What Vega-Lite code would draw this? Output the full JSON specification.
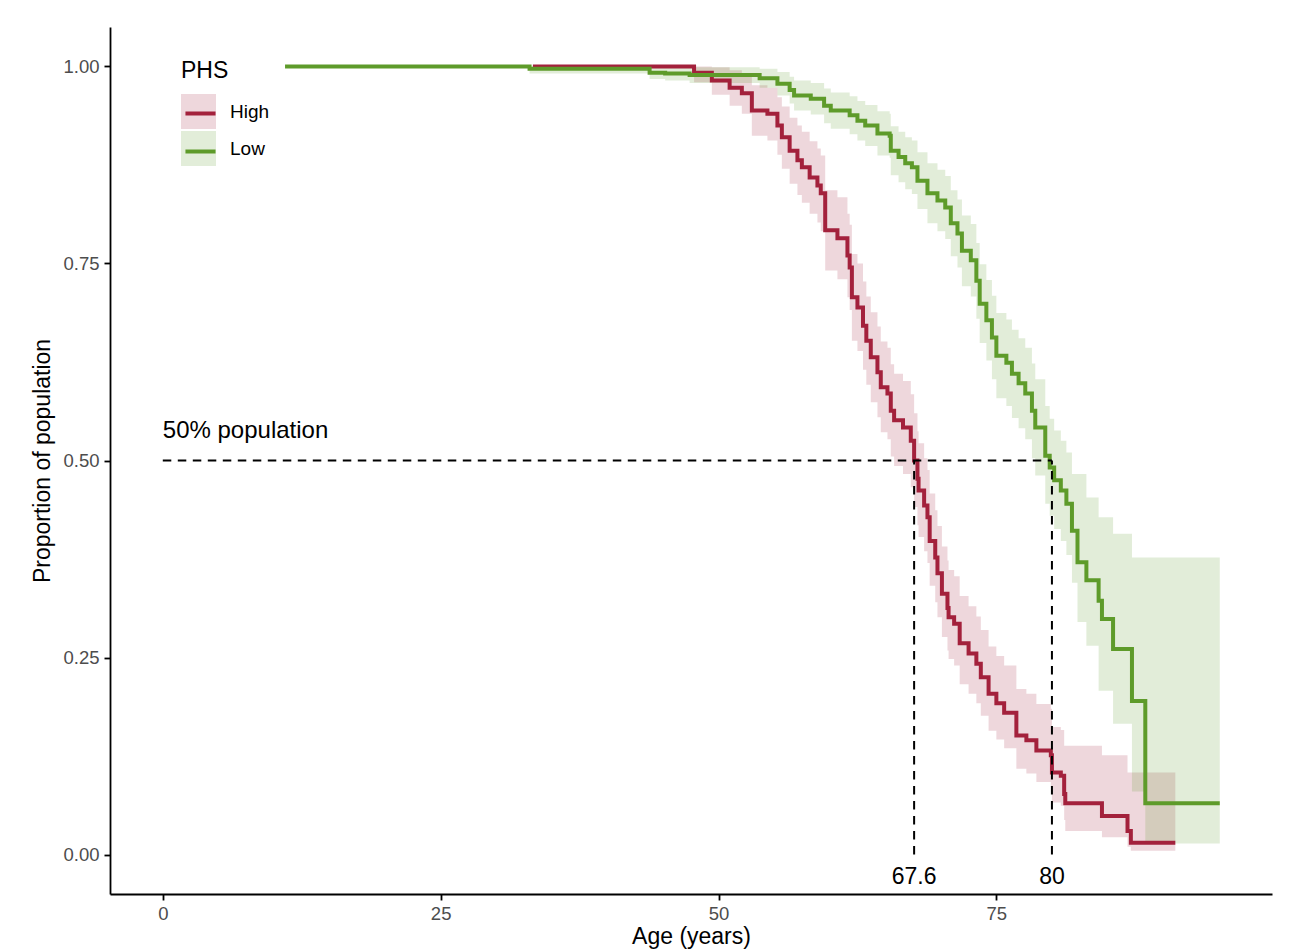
{
  "$schema": "https://vega.github.io/schema/vega-lite/v6.json",
  "width": 1162,
  "height": 867,
  "autosize": {"type": "none"},
  "padding": {"left": 110, "top": 27, "right": 23, "bottom": 56},
  "background": "white",
  "config": {
    "view": {"stroke": null},
    "font": "Liberation Sans",
    "axis": {
      "domainColor": "black",
      "domainWidth": 1.8,
      "tickColor": "black",
      "tickWidth": 1.8,
      "tickSize": 6,
      "labelColor": "#4D4D4D",
      "labelFontSize": 18.5,
      "labelFont": "Liberation Sans",
      "titleFont": "Liberation Sans",
      "titleFontSize": 23,
      "titleFontWeight": "normal",
      "titleColor": "black",
      "grid": false
    },
    "axisX": {"labelPadding": 4, "titlePadding": 3},
    "axisY": {"labelPadding": 5, "titlePadding": 8}
  },
  "datasets": {
    "km": [
      {"PHS": "High", "age": 33.3, "surv": 1.000, "lower": 1.000, "upper": 1.000},
      {"PHS": "High", "age": 47.8, "surv": 0.992, "lower": 0.980, "upper": 1.000},
      {"PHS": "High", "age": 49.4, "surv": 0.982, "lower": 0.964, "upper": 0.999},
      {"PHS": "High", "age": 51.0, "surv": 0.973, "lower": 0.950, "upper": 0.995},
      {"PHS": "High", "age": 52.1, "surv": 0.966, "lower": 0.940, "upper": 0.991},
      {"PHS": "High", "age": 53.0, "surv": 0.944, "lower": 0.912, "upper": 0.976},
      {"PHS": "High", "age": 54.4, "surv": 0.940, "lower": 0.906, "upper": 0.973},
      {"PHS": "High", "age": 55.3, "surv": 0.925, "lower": 0.888, "upper": 0.961},
      {"PHS": "High", "age": 55.7, "surv": 0.910, "lower": 0.870, "upper": 0.949},
      {"PHS": "High", "age": 56.4, "surv": 0.893, "lower": 0.851, "upper": 0.935},
      {"PHS": "High", "age": 57.1, "surv": 0.881, "lower": 0.837, "upper": 0.925},
      {"PHS": "High", "age": 57.5, "surv": 0.872, "lower": 0.827, "upper": 0.917},
      {"PHS": "High", "age": 58.2, "surv": 0.859, "lower": 0.813, "upper": 0.905},
      {"PHS": "High", "age": 58.9, "surv": 0.849, "lower": 0.802, "upper": 0.896},
      {"PHS": "High", "age": 59.2, "surv": 0.839, "lower": 0.791, "upper": 0.887},
      {"PHS": "High", "age": 59.6, "surv": 0.792, "lower": 0.741, "upper": 0.843},
      {"PHS": "High", "age": 60.7, "surv": 0.782, "lower": 0.730, "upper": 0.834},
      {"PHS": "High", "age": 61.6, "surv": 0.760, "lower": 0.707, "upper": 0.813},
      {"PHS": "High", "age": 61.8, "surv": 0.745, "lower": 0.691, "upper": 0.799},
      {"PHS": "High", "age": 62.0, "surv": 0.707, "lower": 0.652, "upper": 0.762},
      {"PHS": "High", "age": 62.5, "surv": 0.694, "lower": 0.639, "upper": 0.750},
      {"PHS": "High", "age": 63.0, "surv": 0.671, "lower": 0.615, "upper": 0.727},
      {"PHS": "High", "age": 63.3, "surv": 0.652, "lower": 0.596, "upper": 0.708},
      {"PHS": "High", "age": 63.7, "surv": 0.631, "lower": 0.574, "upper": 0.688},
      {"PHS": "High", "age": 64.3, "surv": 0.612, "lower": 0.555, "upper": 0.670},
      {"PHS": "High", "age": 64.6, "surv": 0.593, "lower": 0.536, "upper": 0.651},
      {"PHS": "High", "age": 65.2, "surv": 0.585, "lower": 0.527, "upper": 0.643},
      {"PHS": "High", "age": 65.5, "surv": 0.563, "lower": 0.505, "upper": 0.622},
      {"PHS": "High", "age": 65.8, "surv": 0.551, "lower": 0.493, "upper": 0.610},
      {"PHS": "High", "age": 66.6, "surv": 0.542, "lower": 0.483, "upper": 0.601},
      {"PHS": "High", "age": 67.3, "surv": 0.525, "lower": 0.466, "upper": 0.584},
      {"PHS": "High", "age": 67.6, "surv": 0.500, "lower": 0.441, "upper": 0.560},
      {"PHS": "High", "age": 67.9, "surv": 0.477, "lower": 0.418, "upper": 0.537},
      {"PHS": "High", "age": 68.0, "surv": 0.462, "lower": 0.403, "upper": 0.522},
      {"PHS": "High", "age": 68.5, "surv": 0.443, "lower": 0.385, "upper": 0.503},
      {"PHS": "High", "age": 68.8, "surv": 0.428, "lower": 0.370, "upper": 0.488},
      {"PHS": "High", "age": 69.0, "surv": 0.398, "lower": 0.341, "upper": 0.458},
      {"PHS": "High", "age": 69.5, "surv": 0.377, "lower": 0.320, "upper": 0.437},
      {"PHS": "High", "age": 69.7, "surv": 0.357, "lower": 0.301, "upper": 0.417},
      {"PHS": "High", "age": 70.1, "surv": 0.331, "lower": 0.276, "upper": 0.391},
      {"PHS": "High", "age": 70.6, "surv": 0.313, "lower": 0.259, "upper": 0.373},
      {"PHS": "High", "age": 70.7, "surv": 0.301, "lower": 0.248, "upper": 0.361},
      {"PHS": "High", "age": 71.2, "surv": 0.293, "lower": 0.240, "upper": 0.353},
      {"PHS": "High", "age": 71.7, "surv": 0.268, "lower": 0.216, "upper": 0.328},
      {"PHS": "High", "age": 72.5, "surv": 0.255, "lower": 0.204, "upper": 0.315},
      {"PHS": "High", "age": 73.2, "surv": 0.242, "lower": 0.192, "upper": 0.302},
      {"PHS": "High", "age": 73.6, "surv": 0.225, "lower": 0.176, "upper": 0.285},
      {"PHS": "High", "age": 74.3, "surv": 0.204, "lower": 0.157, "upper": 0.264},
      {"PHS": "High", "age": 75.0, "surv": 0.192, "lower": 0.146, "upper": 0.252},
      {"PHS": "High", "age": 75.7, "surv": 0.180, "lower": 0.135, "upper": 0.240},
      {"PHS": "High", "age": 76.8, "surv": 0.151, "lower": 0.109, "upper": 0.210},
      {"PHS": "High", "age": 77.7, "surv": 0.145, "lower": 0.103, "upper": 0.204},
      {"PHS": "High", "age": 78.6, "surv": 0.132, "lower": 0.092, "upper": 0.191},
      {"PHS": "High", "age": 79.9, "surv": 0.126, "lower": 0.086, "upper": 0.185},
      {"PHS": "High", "age": 80.0, "surv": 0.104, "lower": 0.066, "upper": 0.162},
      {"PHS": "High", "age": 80.8, "surv": 0.100, "lower": 0.062, "upper": 0.158},
      {"PHS": "High", "age": 81.1, "surv": 0.077, "lower": 0.044, "upper": 0.138},
      {"PHS": "High", "age": 81.2, "surv": 0.065, "lower": 0.030, "upper": 0.138},
      {"PHS": "High", "age": 84.5, "surv": 0.049, "lower": 0.022, "upper": 0.126},
      {"PHS": "High", "age": 86.8, "surv": 0.030, "lower": 0.010, "upper": 0.104},
      {"PHS": "High", "age": 87.1, "surv": 0.015, "lower": 0.005, "upper": 0.104},
      {"PHS": "High", "age": 91.1, "surv": 0.015, "lower": 0.005, "upper": 0.104},
      {"PHS": "Low", "age": 11.0, "surv": 1.000, "lower": 1.000, "upper": 1.000},
      {"PHS": "Low", "age": 33.0, "surv": 0.997, "lower": 0.991, "upper": 1.000},
      {"PHS": "Low", "age": 43.8, "surv": 0.992, "lower": 0.984, "upper": 1.000},
      {"PHS": "Low", "age": 45.2, "surv": 0.991, "lower": 0.982, "upper": 1.000},
      {"PHS": "Low", "age": 47.4, "surv": 0.989, "lower": 0.979, "upper": 0.999},
      {"PHS": "Low", "age": 53.7, "surv": 0.985, "lower": 0.973, "upper": 0.997},
      {"PHS": "Low", "age": 55.3, "surv": 0.978, "lower": 0.963, "upper": 0.993},
      {"PHS": "Low", "age": 56.4, "surv": 0.970, "lower": 0.953, "upper": 0.987},
      {"PHS": "Low", "age": 56.8, "surv": 0.963, "lower": 0.944, "upper": 0.982},
      {"PHS": "Low", "age": 58.3, "surv": 0.959, "lower": 0.939, "upper": 0.979},
      {"PHS": "Low", "age": 59.5, "surv": 0.950, "lower": 0.928, "upper": 0.972},
      {"PHS": "Low", "age": 60.1, "surv": 0.944, "lower": 0.921, "upper": 0.967},
      {"PHS": "Low", "age": 61.8, "surv": 0.938, "lower": 0.914, "upper": 0.962},
      {"PHS": "Low", "age": 62.5, "surv": 0.931, "lower": 0.906, "upper": 0.956},
      {"PHS": "Low", "age": 63.2, "surv": 0.925, "lower": 0.899, "upper": 0.951},
      {"PHS": "Low", "age": 64.3, "surv": 0.915, "lower": 0.887, "upper": 0.943},
      {"PHS": "Low", "age": 65.4, "surv": 0.912, "lower": 0.884, "upper": 0.940},
      {"PHS": "Low", "age": 65.5, "surv": 0.893, "lower": 0.862, "upper": 0.924},
      {"PHS": "Low", "age": 66.2, "surv": 0.885, "lower": 0.853, "upper": 0.917},
      {"PHS": "Low", "age": 66.8, "surv": 0.877, "lower": 0.844, "upper": 0.910},
      {"PHS": "Low", "age": 67.4, "surv": 0.872, "lower": 0.838, "upper": 0.906},
      {"PHS": "Low", "age": 67.9, "surv": 0.855, "lower": 0.819, "upper": 0.891},
      {"PHS": "Low", "age": 68.8, "surv": 0.839, "lower": 0.801, "upper": 0.877},
      {"PHS": "Low", "age": 69.7, "surv": 0.830, "lower": 0.791, "upper": 0.869},
      {"PHS": "Low", "age": 70.4, "surv": 0.821, "lower": 0.781, "upper": 0.861},
      {"PHS": "Low", "age": 70.9, "surv": 0.801, "lower": 0.759, "upper": 0.843},
      {"PHS": "Low", "age": 71.5, "surv": 0.788, "lower": 0.745, "upper": 0.831},
      {"PHS": "Low", "age": 71.9, "surv": 0.766, "lower": 0.721, "upper": 0.811},
      {"PHS": "Low", "age": 72.7, "surv": 0.754, "lower": 0.708, "upper": 0.800},
      {"PHS": "Low", "age": 73.2, "surv": 0.728, "lower": 0.680, "upper": 0.776},
      {"PHS": "Low", "age": 73.5, "surv": 0.699, "lower": 0.649, "upper": 0.749},
      {"PHS": "Low", "age": 74.1, "surv": 0.678, "lower": 0.627, "upper": 0.729},
      {"PHS": "Low", "age": 74.6, "surv": 0.656, "lower": 0.603, "upper": 0.709},
      {"PHS": "Low", "age": 75.0, "surv": 0.633, "lower": 0.579, "upper": 0.687},
      {"PHS": "Low", "age": 75.9, "surv": 0.624, "lower": 0.569, "upper": 0.679},
      {"PHS": "Low", "age": 76.4, "surv": 0.610, "lower": 0.554, "upper": 0.666},
      {"PHS": "Low", "age": 77.0, "surv": 0.598, "lower": 0.541, "upper": 0.655},
      {"PHS": "Low", "age": 77.6, "surv": 0.585, "lower": 0.527, "upper": 0.643},
      {"PHS": "Low", "age": 78.2, "surv": 0.563, "lower": 0.503, "upper": 0.623},
      {"PHS": "Low", "age": 78.5, "surv": 0.542, "lower": 0.481, "upper": 0.603},
      {"PHS": "Low", "age": 79.4, "surv": 0.506, "lower": 0.445, "upper": 0.569},
      {"PHS": "Low", "age": 79.8, "surv": 0.491, "lower": 0.430, "upper": 0.553},
      {"PHS": "Low", "age": 80.2, "surv": 0.475, "lower": 0.413, "upper": 0.538},
      {"PHS": "Low", "age": 80.8, "surv": 0.462, "lower": 0.398, "upper": 0.525},
      {"PHS": "Low", "age": 81.3, "surv": 0.445, "lower": 0.380, "upper": 0.510},
      {"PHS": "Low", "age": 81.8, "surv": 0.411, "lower": 0.345, "upper": 0.483},
      {"PHS": "Low", "age": 82.3, "surv": 0.371, "lower": 0.295, "upper": 0.483},
      {"PHS": "Low", "age": 83.1, "surv": 0.348, "lower": 0.265, "upper": 0.453},
      {"PHS": "Low", "age": 84.2, "surv": 0.322, "lower": 0.208, "upper": 0.428},
      {"PHS": "Low", "age": 84.5, "surv": 0.299, "lower": 0.208, "upper": 0.428},
      {"PHS": "Low", "age": 85.5, "surv": 0.261, "lower": 0.166, "upper": 0.407},
      {"PHS": "Low", "age": 87.2, "surv": 0.195, "lower": 0.080, "upper": 0.377},
      {"PHS": "Low", "age": 88.4, "surv": 0.065, "lower": 0.014, "upper": 0.377},
      {"PHS": "Low", "age": 95.1, "surv": 0.065, "lower": 0.014, "upper": 0.377}
    ],
    "ref": [
      {"age": 0, "age2": 80, "p": 0.5, "p2": 0.5},
      {"age": 67.6, "age2": 67.6, "p": 0, "p2": 0.5},
      {"age": 80, "age2": 80, "p": 0, "p2": 0.5}
    ],
    "note": [
      {"label": "50% population", "age": 0, "p": 0.528}
    ],
    "medians": [
      {"label": "67.6", "age": 67.6, "p": -0.037},
      {"label": "80", "age": 80, "p": -0.037}
    ]
  },
  "layer": [
    {
      "data": {"name": "km"},
      "mark": {"type": "area", "interpolate": "step-after", "opacity": 0.18},
      "encoding": {
        "x": {"field": "age", "type": "quantitative", "scale": {"domain": [-4.75, 99.8], "nice": false, "zero": false},
              "axis": {"values": [0, 25, 50, 75], "format": "d", "title": "Age (years)"}},
        "y": {"field": "lower", "type": "quantitative", "scale": {"domain": [-0.05, 1.05], "nice": false, "zero": false},
              "axis": {"values": [0, 0.25, 0.5, 0.75, 1], "format": ".2f", "title": "Proportion of population"}},
        "y2": {"field": "upper"},
        "fill": {
          "field": "PHS", "type": "nominal",
          "scale": {"domain": ["High", "Low"], "range": ["#A3213C", "#5E9B2A"]},
          "legend": {
            "orient": "none", "legendX": 71, "legendY": 33, "padding": 0,
            "title": "PHS", "titleFontSize": 23, "titleFontWeight": "normal", "titleColor": "black", "titlePadding": 11,
            "symbolType": "square", "symbolSize": 1225, "symbolStrokeWidth": 0, "symbolOpacity": 0.18,
            "labelFontSize": 19, "labelColor": "black", "labelOffset": 14, "rowPadding": 2
          }
        }
      }
    },
    {
      "data": {"name": "km"},
      "mark": {"type": "line", "interpolate": "step-after", "strokeWidth": 4},
      "encoding": {
        "x": {"field": "age", "type": "quantitative", "axis": {"values": [0, 25, 50, 75], "format": "d", "title": "Age (years)"}},
        "y": {"field": "surv", "type": "quantitative", "axis": {"values": [0, 0.25, 0.5, 0.75, 1], "format": ".2f", "title": "Proportion of population"}},
        "stroke": {
          "field": "PHS", "type": "nominal",
          "scale": {"range": ["#A3213C", "#5E9B2A"]},
          "legend": {
            "orient": "none", "legendX": 71, "legendY": 33, "padding": 0,
            "title": "PHS", "titleFontSize": 23, "titleFontWeight": "normal", "titleOpacity": 0, "titlePadding": 11,
            "symbolType": "M-0.86,0H0.86", "symbolSize": 1225, "symbolStrokeWidth": 4, "symbolOpacity": 1,
            "labelExpr": "' '", "labelFontSize": 35, "labelOpacity": 0, "labelOffset": 14, "rowPadding": 0
          }
        }
      }
    },
    {
      "data": {"name": "ref"},
      "mark": {"type": "rule", "color": "black", "strokeWidth": 2, "strokeDash": [8.5, 6.5]},
      "encoding": {
        "x": {"field": "age", "type": "quantitative", "axis": {"values": [0, 25, 50, 75], "format": "d", "title": "Age (years)"}},
        "x2": {"field": "age2"},
        "y": {"field": "p", "type": "quantitative", "axis": {"values": [0, 0.25, 0.5, 0.75, 1], "format": ".2f", "title": "Proportion of population"}},
        "y2": {"field": "p2"}
      }
    },
    {
      "data": {"name": "note"},
      "mark": {"type": "text", "align": "left", "baseline": "alphabetic", "fontSize": 24, "color": "black", "font": "Liberation Sans"},
      "encoding": {
        "x": {"field": "age", "type": "quantitative", "axis": {"values": [0, 25, 50, 75], "format": "d", "title": "Age (years)"}},
        "y": {"field": "p", "type": "quantitative", "axis": {"values": [0, 0.25, 0.5, 0.75, 1], "format": ".2f", "title": "Proportion of population"}},
        "text": {"field": "label"}
      }
    },
    {
      "data": {"name": "medians"},
      "mark": {"type": "text", "align": "center", "baseline": "alphabetic", "fontSize": 23, "color": "black", "font": "Liberation Sans"},
      "encoding": {
        "x": {"field": "age", "type": "quantitative", "axis": {"values": [0, 25, 50, 75], "format": "d", "title": "Age (years)"}},
        "y": {"field": "p", "type": "quantitative", "axis": {"values": [0, 0.25, 0.5, 0.75, 1], "format": ".2f", "title": "Proportion of population"}},
        "text": {"field": "label"}
      }
    }
  ]
}
